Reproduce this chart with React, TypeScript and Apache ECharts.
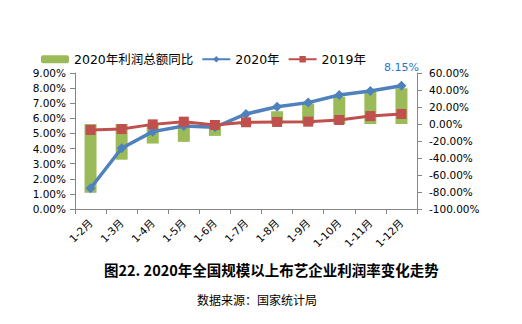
import React, { useEffect, useRef } from "react";
import * as echarts from "echarts";

const categories = ["1-2月", "1-3月", "1-4月", "1-5月", "1-6月", "1-7月", "1-8月", "1-9月", "1-10月", "1-11月", "1-12月"];
const profitYoY = [-81, -42, -23, -21, -14, -1, 15, 24, 32, 38, 42];
const rate2020 = [1.37, 4.02, 5.12, 5.49, 5.41, 6.29, 6.77, 7.04, 7.54, 7.81, 8.15];
const rate2019 = [5.23, 5.29, 5.6, 5.78, 5.56, 5.74, 5.76, 5.78, 5.89, 6.15, 6.29];
const leftTicks = { min: 0, max: 9, interval: 1 };
const rightTicks = { min: -100, max: 60, interval: 20 };
const titleText = "图22. 2020年全国规模以上布艺企业利润率变化走势";
const sourceText = "数据来源：国家统计局";

const FONT = "'DejaVu Sans', 'Noto Sans CJK SC', sans-serif";

export default function App() {
  const ref = useRef<HTMLDivElement>(null);
  useEffect(() => {
    if (!ref.current) return;
    const chart = echarts.init(ref.current, null, { renderer: "svg" });
    const last = rate2020.length - 1;
    chart.setOption({
      animation: false,
      backgroundColor: "#ffffff",
      title: [
        {
          text: titleText,
          left: 99,
          top: 257,
          textStyle: { fontSize: 14.5, fontWeight: "bold", color: "#000", fontFamily: "'Noto Sans CJK SC', sans-serif" },
        },
        {
          text: sourceText,
          left: 192,
          top: 288,
          textStyle: { fontSize: 12, fontWeight: "normal", color: "#000", fontFamily: "'Noto Sans CJK SC', sans-serif" },
        },
      ],
      legend: {
        left: 36,
        top: 48,
        itemWidth: 28,
        itemHeight: 8,
        itemGap: 8,
        textStyle: { fontSize: 12.5, color: "#000", fontFamily: FONT },
        data: ["2020年利润总额同比", "2020年", "2019年"],
      },
      grid: { left: 75, right: 105, top: 73, bottom: 115 },
      xAxis: {
        type: "category",
        data: categories,
        boundaryGap: true,
        axisLine: { lineStyle: { color: "#868686" } },
        axisTick: { show: true, alignWithLabel: false, length: 5, lineStyle: { color: "#868686" } },
        axisLabel: { rotate: 45, fontSize: 10.5, color: "#000", fontFamily: FONT, margin: 12, interval: 0 },
        splitLine: { show: false },
      },
      yAxis: [
        {
          type: "value",
          position: "left",
          ...leftTicks,
          axisLine: { show: true, lineStyle: { color: "#868686" } },
          axisTick: { show: true, length: 5, lineStyle: { color: "#868686" } },
          axisLabel: { fontSize: 10.5, color: "#000", fontFamily: FONT, margin: 9, formatter: (v: number) => v.toFixed(2) + "%" },
          splitLine: { show: false },
        },
        {
          type: "value",
          position: "right",
          ...rightTicks,
          axisLine: { show: true, lineStyle: { color: "#868686" } },
          axisTick: { show: true, length: 5, lineStyle: { color: "#868686" } },
          axisLabel: { fontSize: 10.5, color: "#000", fontFamily: FONT, margin: 12, formatter: (v: number) => v.toFixed(2) + "%" },
          splitLine: { show: false },
        },
      ],
      series: [
        {
          name: "2020年利润总额同比",
          type: "bar",
          yAxisIndex: 1,
          data: profitYoY,
          barWidth: 12,
          itemStyle: { color: "#9BBB59" },
        },
        {
          name: "2020年",
          type: "line",
          yAxisIndex: 0,
          data: rate2020.map((v, i) =>
            i === last
              ? {
                  value: v,
                  label: {
                    show: true,
                    position: "top",
                    distance: 8,
                    color: "#1F77D0",
                    fontSize: 11,
                    fontFamily: FONT,
                    formatter: (p: any) => Number(p.value).toFixed(2) + "%",
                  },
                }
              : v
          ),
          symbol: "diamond",
          symbolSize: 10,
          lineStyle: { color: "#4F81BD", width: 3.5 },
          itemStyle: { color: "#4F81BD" },
        },
        {
          name: "2019年",
          type: "line",
          yAxisIndex: 0,
          data: rate2019,
          symbol: "rect",
          symbolSize: 10,
          lineStyle: { color: "#C0504D", width: 3 },
          itemStyle: { color: "#C0504D" },
        },
      ],
    });
    return () => chart.dispose();
  }, []);
  return <div ref={ref} style={{ position: "fixed", left: 0, top: 0, width: 522, height: 324 }} />;
}
